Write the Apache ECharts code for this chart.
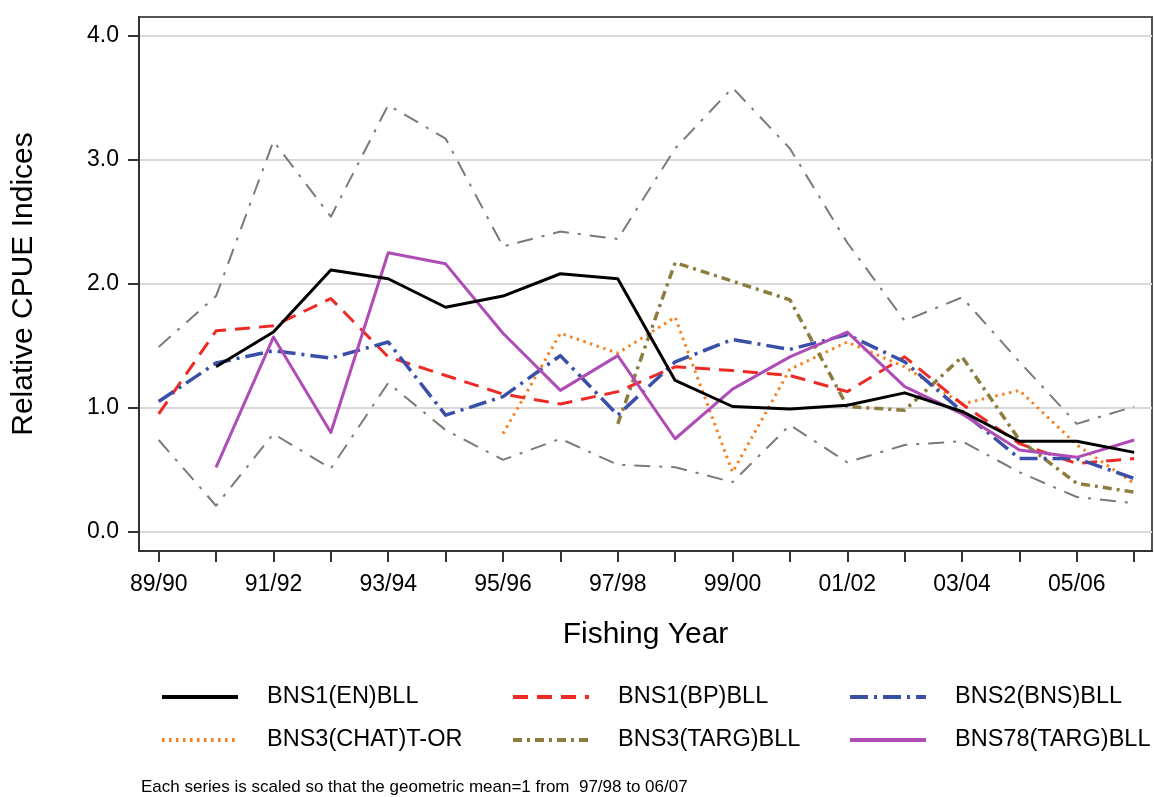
<!DOCTYPE html>
<html>
<head>
<meta charset="utf-8">
<script src="https://cdn.jsdelivr.net/npm/echarts@6/dist/echarts.min.js"></script>
<style>
html,body{margin:0;padding:0;background:#fff;}
#chart{width:1154px;height:797px;}
</style>
</head>
<body>
<div id="chart"></div>
<script>
const years = ['89/90','90/91','91/92','92/93','93/94','94/95','95/96','96/97','97/98','98/99','99/00','00/01','01/02','02/03','03/04','04/05','05/06','06/07'];
const yTicks = [0, 1, 2, 3, 4];

const upperBound = [1.49, 1.90, 3.15, 2.54, 3.44, 3.17, 2.30, 2.42, 2.36, 3.09, 3.58, 3.09, 2.33, 1.70, 1.89, 1.37, 0.87, 1.01];
const lowerBound = [0.74, 0.21, 0.79, 0.51, 1.20, 0.82, 0.58, 0.75, 0.54, 0.52, 0.40, 0.86, 0.56, 0.70, 0.73, 0.48, 0.28, 0.23];
const bns1EN   = [null, 1.33, 1.61, 2.11, 2.04, 1.81, 1.90, 2.08, 2.04, 1.22, 1.01, 0.99, 1.02, 1.12, 0.97, 0.73, 0.73, 0.64];
const bns1BP   = [0.95, 1.62, 1.66, 1.88, 1.41, 1.26, 1.11, 1.03, 1.13, 1.33, 1.30, 1.26, 1.13, 1.41, 1.03, 0.71, 0.55, 0.59];
const bns2BNS  = [1.05, 1.36, 1.46, 1.40, 1.53, 0.94, 1.09, 1.42, 0.94, 1.37, 1.55, 1.47, 1.59, 1.37, 0.97, 0.59, 0.59, 0.43];
const bns3CHAT = [null, null, null, null, null, null, 0.79, 1.60, 1.44, 1.73, 0.48, 1.31, 1.53, 1.33, 1.03, 1.14, 0.70, 0.39];
const bns3TARG = [null, null, null, null, null, null, null, null, 0.87, 2.17, 2.02, 1.87, 1.01, 0.98, 1.41, 0.74, 0.39, 0.32];
const bns78    = [null, 0.52, 1.57, 0.80, 2.25, 2.16, 1.60, 1.14, 1.42, 0.75, 1.15, 1.41, 1.61, 1.17, 0.95, 0.66, 0.60, 0.74];

const seriesNames = ['BNS1(EN)BLL','BNS1(BP)BLL','BNS2(BNS)BLL','BNS3(CHAT)T-OR','BNS3(TARG)BLL','BNS78(TARG)BLL'];

function pts(arr){ return arr.map((v,i)=>[i,v]); }

const FONT = '"Liberation Sans", Arial, sans-serif';

function mk(name, data, color, type, width, z){
  return {
    name: name, type: 'line', data: pts(data), symbol: 'none', connectNulls: false,
    lineStyle: {color: color, width: width, type: type, cap: 'butt', join: 'round'},
    itemStyle: {color: color}, z: z || 2, animation: false
  };
}

const legendCommon = {
  orient: 'vertical', itemWidth: 76, itemHeight: 14, itemGap: 19, padding: 0,
  itemStyle: {opacity: 0},
  lineStyle: {width: 4},
  textStyle: {fontFamily: FONT, fontSize: 23.5, color: '#000', lineHeight: 24, padding: [0,0,0,24]},
  top: 685
};

const option = {
  backgroundColor: '#fff',
  animation: false,
  title: {
    text: 'Each series is scaled so that the geometric mean=1 from  97/98 to 06/07',
    left: 141, top: 779, padding: 0,
    textStyle: {fontFamily: FONT, fontSize: 17, fontWeight: 'normal', color: '#000'}
  },
  grid: {left: 139, top: 17, right: 2, bottom: 246, show: true, borderColor: '#555', borderWidth: 2},
  legend: [
    Object.assign({left: 160, data: [seriesNames[0], seriesNames[3]]}, legendCommon),
    Object.assign({left: 511, data: [seriesNames[1], seriesNames[4]]}, legendCommon),
    Object.assign({left: 848, data: [seriesNames[2], seriesNames[5]]}, legendCommon)
  ],
  xAxis: {
    type: 'value', min: -0.343, max: 17.31,
    name: 'Fishing Year', nameLocation: 'middle', nameGap: 69,
    nameTextStyle: {fontFamily: FONT, fontSize: 30, color: '#000'},
    axisLine: {show: true, onZero: false, lineStyle: {color: '#333', width: 2}},
    axisTick: {show: true, length: 11, lineStyle: {color: '#333', width: 2},
      customValues: years.map((y,i)=>i)},
    axisLabel: {fontFamily: FONT, fontSize: 23, color: '#000', margin: 22,
      customValues: years.map((y,i)=>i).filter(i=>i%2===0),
      formatter: v => years[Math.round(v)] || ''},
    splitLine: {show: false}
  },
  yAxis: {
    type: 'value', min: -0.155, max: 4.15,
    name: 'Relative CPUE Indices', nameLocation: 'middle', nameGap: 100,
    nameTextStyle: {fontFamily: FONT, fontSize: 30, color: '#000'},
    axisLine: {show: true, onZero: false, lineStyle: {color: '#333', width: 2}},
    axisTick: {show: true, length: 11, lineStyle: {color: '#333', width: 2}, customValues: yTicks},
    axisLabel: {fontFamily: FONT, fontSize: 23, color: '#000', margin: 20,
      customValues: yTicks, formatter: v => v.toFixed(1)},
    splitLine: {show: true, lineStyle: {color: '#d9d9d9', width: 2}}
  },
  series: [
    mk('upper', upperBound, '#7a7a7a', [16,9,3,9], 2, 1),
    mk('lower', lowerBound, '#7a7a7a', [16,9,3,9], 2, 1),
    mk(seriesNames[0], bns1EN, '#000000', 'solid', 3, 5),
    mk(seriesNames[1], bns1BP, '#ee2a24', [15,9], 3, 4),
    mk(seriesNames[2], bns2BNS, '#3a4fa8', [18,6,3,6], 3.5, 4),
    mk(seriesNames[3], bns3CHAT, '#f7801f', [2.5,4.5], 3, 3),
    mk(seriesNames[4], bns3TARG, '#8c7d3f', [9,5,3,5], 3.5, 3),
    mk(seriesNames[5], bns78, '#b04cb5', 'solid', 3, 4)
  ]
};

const chart = echarts.init(document.getElementById('chart'), null, {renderer: 'canvas'});
chart.setOption(option);
</script>
</body>
</html>
